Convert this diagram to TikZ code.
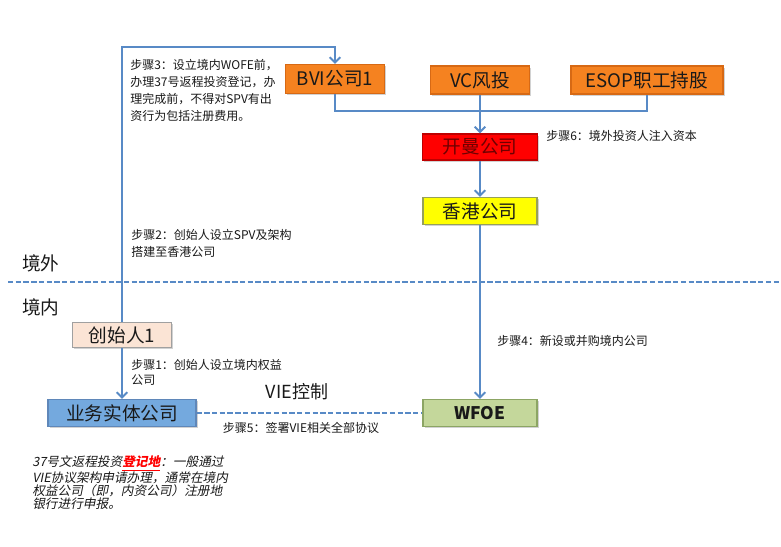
\documentclass[tikz,border=0pt]{standalone}
\usepackage{fontspec}
\setmainfont{Noto Sans CJK SC}
\newfontfamily\notefont{Noto Sans CJK SC}[FakeSlant=0.2]
\usetikzlibrary{arrows.meta,shadows}
\definecolor{lineblue}{RGB}{88,138,198}
\definecolor{orangefill}{RGB}{245,130,32}
\definecolor{orangeedge}{RGB}{215,105,20}
\definecolor{redfill}{RGB}{255,0,0}
\definecolor{rededge}{RGB}{190,0,0}
\definecolor{redtext}{RGB}{110,0,0}
\definecolor{yellowfill}{RGB}{255,255,0}
\definecolor{yellowedge}{RGB}{150,160,90}
\definecolor{peachfill}{RGB}{251,228,213}
\definecolor{grayedge}{RGB}{160,160,160}
\definecolor{bluefill}{RGB}{116,169,222}
\definecolor{blueedge}{RGB}{95,135,185}
\definecolor{greenfill}{RGB}{196,215,155}
\definecolor{greenedge}{RGB}{140,165,100}
\definecolor{textdark}{RGB}{25,25,25}
\tikzset{
  box/.style={draw, line width=0.8pt, inner sep=0pt, text=textdark,
    font=\fontsize{14pt}{16pt}\selectfont,
    drop shadow={opacity=0.35, shadow xshift=1.2pt, shadow yshift=-1.2pt}},
  orangebox/.style={box, fill=orangefill, draw=orangeedge},
  redbox/.style={box, fill=redfill, draw=rededge, text=redtext},
  yellowbox/.style={box, fill=yellowfill, draw=yellowedge},
  peachbox/.style={box, fill=peachfill, draw=grayedge},
  bluebox/.style={box, fill=bluefill, draw=blueedge},
  greenbox/.style={box, fill=greenfill, draw=greenedge},
  conn/.style={draw=lineblue, line width=1.5pt},
  arr/.style={conn, -{Straight Barb[length=4pt,width=8pt,line width=1.5pt]}},
  dashline/.style={draw=lineblue, line width=2pt, dash pattern=on 4pt off 1.8pt},
  steplabel/.style={inner sep=0pt, align=left, text=textdark,
    font=\fontsize{9pt}{12.75pt}\selectfont},
  region/.style={inner sep=0pt, text=textdark, font=\fontsize{14pt}{16pt}\selectfont},
}
\begin{document}
\begin{tikzpicture}[x=0.75pt,y=-0.75pt]
\useasboundingbox (0,0) rectangle (781,546);
\fill[white] (0,0) rectangle (781,546);

% boxes
\node[orangebox, minimum width=74.25pt, minimum height=21.75pt] (bvi) at (335,79) {BVI公司1};
\node[orangebox, minimum width=74.25pt, minimum height=21pt] (vc) at (480,80) {VC风投};
\node[orangebox, minimum width=114pt, minimum height=21pt] (esop) at (647,80) {ESOP职工持股};
\node[redbox, minimum width=86.25pt, minimum height=19.5pt] (cayman) at (480,147) {开曼公司};
\node[yellowbox, minimum width=85.5pt, minimum height=20.25pt] (hk) at (480,211) {香港公司};
\node[peachbox, minimum width=74.25pt, minimum height=18.75pt] (founder) at (122,335) {创始人1};
\node[bluebox, minimum width=111pt, minimum height=20.25pt] (biz) at (122,413) {业务实体公司};
\node[greenbox, minimum width=85.5pt, minimum height=20.25pt, font=\fontsize{13pt}{16pt}\bfseries\selectfont] (wfoe) at (480,413) {WFOE};

% helper coordinates
\coordinate (tl) at (122,47);
\coordinate (jn) at (480,111);
\coordinate (sepL) at (8,282);
\coordinate (sepR) at (781,282);

% connectors
\draw[arr] (founder.north) -- (tl) -| (bvi.north);
\draw[arr] (founder.south) -- (biz.north);
\draw[conn] (bvi.south) |- (jn) -| (esop.south);
\draw[arr] (vc.south) -- (cayman.north);
\draw[arr] (cayman.south) -- (hk.north);
\draw[arr] (hk.south) -- (wfoe.north);
\draw[dashline] (biz.east) -- (wfoe.west);
\draw[dashline] (sepL) -- (sepR);

% region labels
\node[region, anchor=west] (out) at (22,263) {境外};
\node[region, anchor=west] (in) at (22,307) {境内};

% step labels
\node[steplabel, anchor=west] (s3) at (130,90) {步骤3：设立境内WOFE前，\\办理37号返程投资登记，办\\理完成前，不得对SPV有出\\资行为包括注册费用。};
\node[steplabel, anchor=west] (s6) at (546,136) {步骤6：境外投资人注入资本};
\node[steplabel, anchor=west] (s2) at (131,243.5) {步骤2：创始人设立SPV及架构\\搭建至香港公司};
\node[steplabel, anchor=west, font=\fontsize{9pt}{11.5pt}\selectfont] (s1) at (131,372.5) {步骤1：创始人设立境内权益\\公司};
\node[steplabel, anchor=west] (s4) at (497,341) {步骤4：新设或并购境内公司};
\node[steplabel, anchor=center] (s5) at (301,428) {步骤5：签署VIE相关全部协议};
\node[region, anchor=center, font=\fontsize{13.5pt}{16pt}\selectfont] (vie) at (297,392) {VIE控制};

% note
\node[inner sep=0pt, align=left, anchor=west, text=textdark,
  font=\notefont\fontsize{9.5pt}{9.8pt}\selectfont] (note) at (32,483)
  {37号文返程投资\textcolor{red}{\underline{\bfseries 登记地}}：一般通过\\VIE协议架构申请办理，通常在境内\\权益公司（即，内资公司）注册地\\银行进行申报。};
\end{tikzpicture}
\end{document}
